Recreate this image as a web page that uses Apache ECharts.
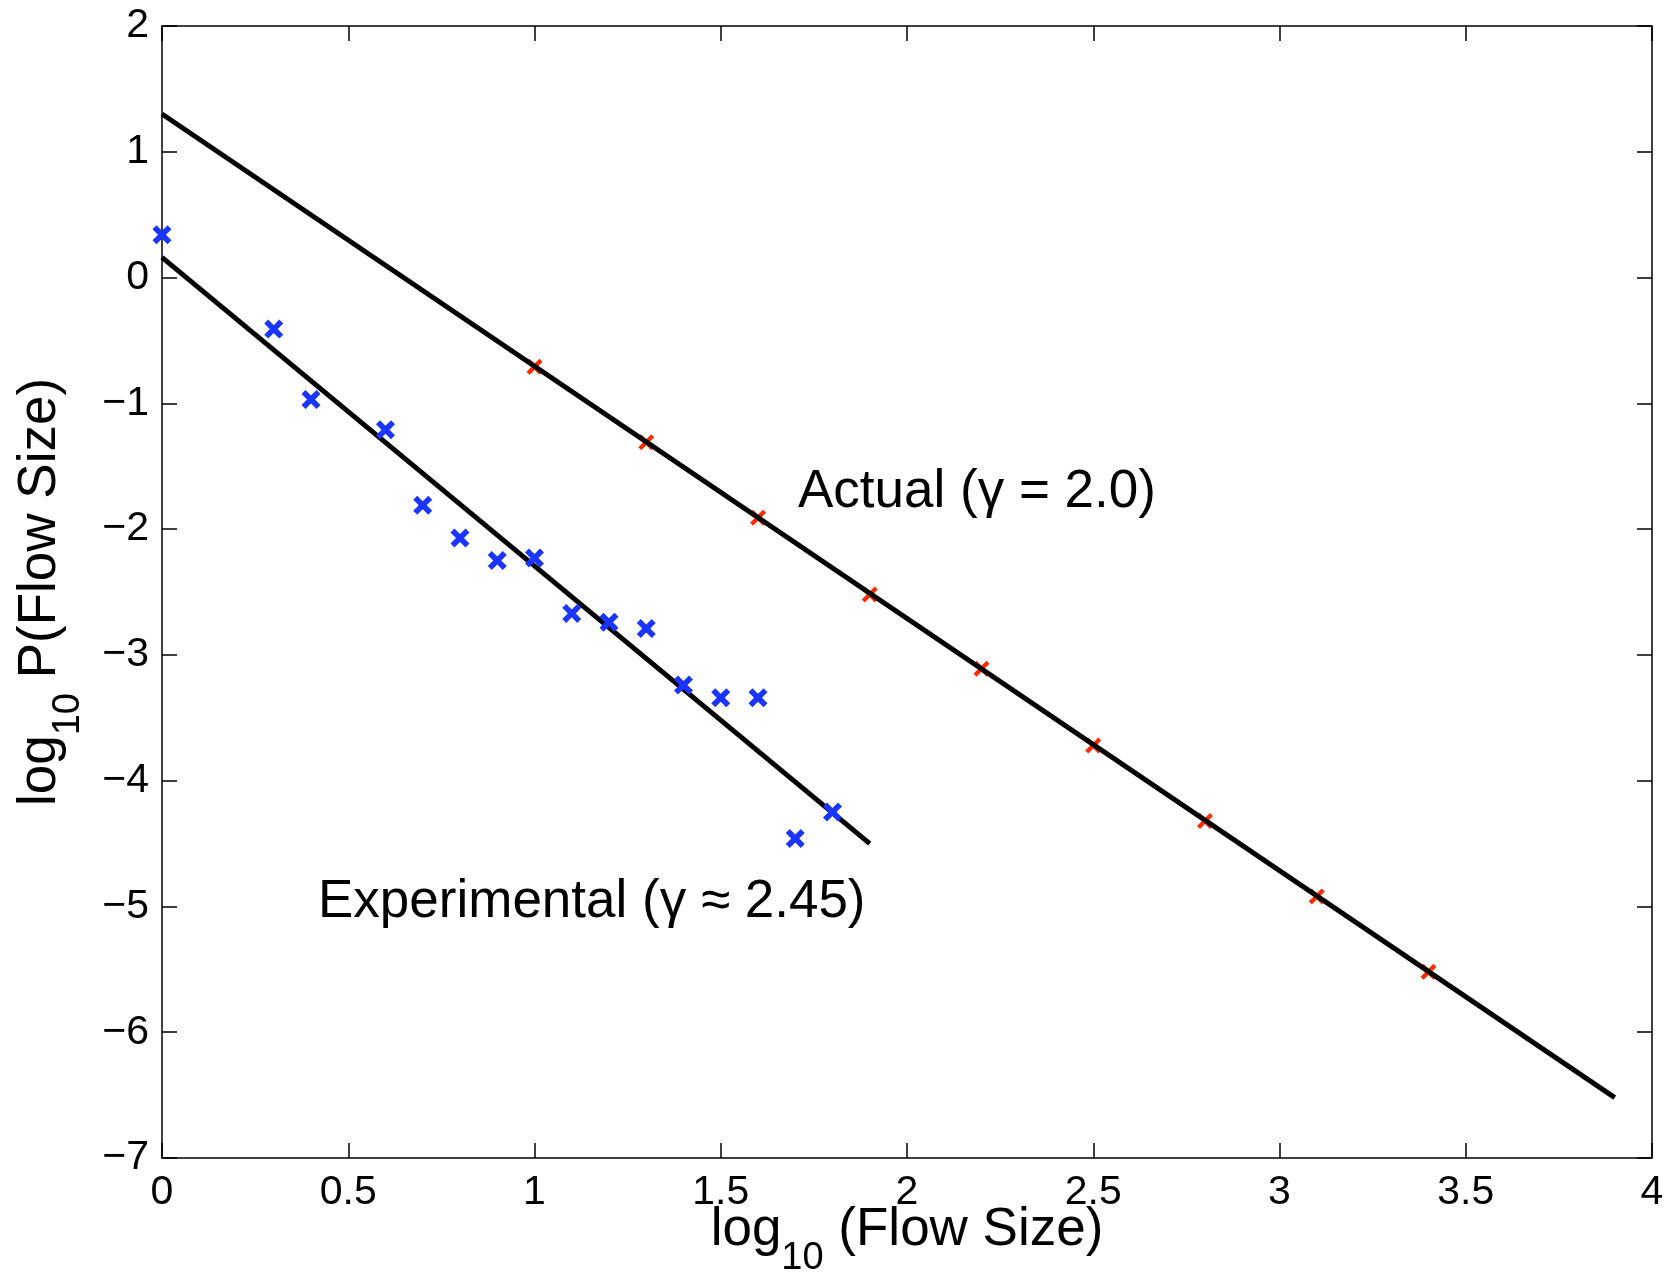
<!DOCTYPE html>
<html><head><meta charset="utf-8">
<script src="https://cdn.jsdelivr.net/npm/echarts@6/dist/echarts.min.js"></script>
<style>html,body{margin:0;padding:0;background:#fff;} #chart{width:1665px;height:1279px;}</style>
</head><body><div id="chart"></div>
<script>
// Experimental measurements (blue x)
const expX = [0, 0.3, 0.4, 0.6, 0.7, 0.8, 0.9, 1.0, 1.1, 1.2, 1.3, 1.4, 1.5, 1.6, 1.7, 1.8];
const expY = [0.34, -0.41, -0.97, -1.21, -1.81, -2.07, -2.25, -2.23, -2.67, -2.74, -2.79, -3.24, -3.34, -3.34, -4.46, -4.25];
// Actual distribution points (red x)
const actX = [1.0, 1.3, 1.6, 1.9, 2.2, 2.5, 2.8, 3.1, 3.4];
const actY = [-0.71, -1.31, -1.91, -2.52, -3.11, -3.72, -4.32, -4.92, -5.52];
// Fitted lines (end points)
const actLineX = [0, 3.9];
const actLineY = [1.3, -6.52];
const expLineX = [0, 1.9];
const expLineY = [0.16, -4.5];
// Axis ranges / ticks
const xMin = 0, xMax = 4, xStep = 0.5;
const yMin = -7, yMax = 2, yStep = 1;
// Annotation texts
const actLabel = 'Actual (\u03B3 = 2.0)';
const expLabel = 'Experimental (\u03B3 \u2248 2.45)';

const zip = (a, b) => a.map((v, i) => [v, b[i]]);
const FONT = '"Liberation Sans", Arial, Helvetica, sans-serif';
const crossBlue = 'path://M2.1,0 L5,2.9 L7.9,0 L10,2.1 L7.1,5 L10,7.9 L7.9,10 L5,7.1 L2.1,10 L0,7.9 L2.9,5 L0,2.1 Z';
const crossRed = 'path://M1.9,0 L5,3.1 L8.1,0 L10,1.9 L6.9,5 L10,8.1 L8.1,10 L5,6.9 L1.9,10 L0,8.1 L3.1,5 L0,1.9 Z';
const fmt = v => (v < 0 ? '\u2212' + Math.abs(v) : String(v));

const axisLine = { show: true, onZero: false, lineStyle: { color: '#000', width: 1.5 } };
const axisTick = { show: true, inside: true, length: 15, lineStyle: { color: '#000', width: 1.5 } };

const titleRich = {
  n: { fontFamily: FONT, fontSize: 53, color: '#000', lineHeight: 53, verticalAlign: 'top' },
  s: { fontFamily: FONT, fontSize: 38, color: '#000', lineHeight: 74, verticalAlign: 'bottom' }
};

const chart = echarts.init(document.getElementById('chart'), null, { renderer: 'canvas' });
chart.setOption({
  backgroundColor: '#fff',
  animation: false,
  grid: { left: 162, right: 13, top: 26, bottom: 121, containLabel: false, outerBoundsMode: 'none' },
  xAxis: [
    {
      type: 'value', min: xMin, max: xMax, interval: xStep, position: 'bottom',
      axisLine, axisTick, splitLine: { show: false },
      axisLabel: { show: true, margin: 14, color: '#000', fontSize: 41, fontFamily: FONT, formatter: fmt, showMinLabel: true, showMaxLabel: true },
      name: '{n|log}{s|10}{n| (Flow Size)}', nameLocation: 'middle', nameGap: 46, nameMoveOverlap: false,
      nameTextStyle: { rich: titleRich }
    },
    {
      type: 'value', min: xMin, max: xMax, interval: xStep, position: 'top',
      axisLine, axisTick, splitLine: { show: false }, axisLabel: { show: false }
    }
  ],
  yAxis: [
    {
      type: 'value', min: yMin, max: yMax, interval: yStep, position: 'left',
      axisLine, axisTick, splitLine: { show: false },
      axisLabel: { show: true, margin: 13, color: '#000', fontSize: 41, fontFamily: FONT, formatter: fmt, showMinLabel: true, showMaxLabel: true },
      name: '{n|log}{s|10}{n| P(Flow Size)}', nameLocation: 'middle', nameGap: 74, nameMoveOverlap: false,
      nameTextStyle: { rich: titleRich }
    },
    {
      type: 'value', min: yMin, max: yMax, interval: yStep, position: 'right',
      axisLine, axisTick, splitLine: { show: false }, axisLabel: { show: false }
    }
  ],
  series: [
    {
      name: 'ActualPoints', type: 'scatter', data: zip(actX, actY), z: 2,
      symbol: crossRed, symbolSize: 16, itemStyle: { color: '#ff2a00', opacity: 1 }
    },
    {
      name: 'ActualFit', type: 'line', data: zip(actLineX, actLineY), z: 3,
      showSymbol: false, symbol: 'none', lineStyle: { color: '#000', width: 5 }
    },
    {
      name: 'ExpFit', type: 'line', data: zip(expLineX, expLineY), z: 3,
      showSymbol: false, symbol: 'none', lineStyle: { color: '#000', width: 5 }
    },
    {
      name: 'Experimental', type: 'scatter', data: zip(expX, expY), z: 4,
      symbol: crossBlue, symbolSize: 19, itemStyle: { color: '#1a35ff', opacity: 1 }
    }
  ],
  graphic: [
    { type: 'text', left: 798, top: 492 - 26, style: { text: actLabel, font: '53px ' + FONT, fill: '#000', textVerticalAlign: 'top' } },
    { type: 'text', left: 318, top: 902 - 26, style: { text: expLabel, font: '53px ' + FONT, fill: '#000', textVerticalAlign: 'top' } }
  ]
});
</script></body></html>
